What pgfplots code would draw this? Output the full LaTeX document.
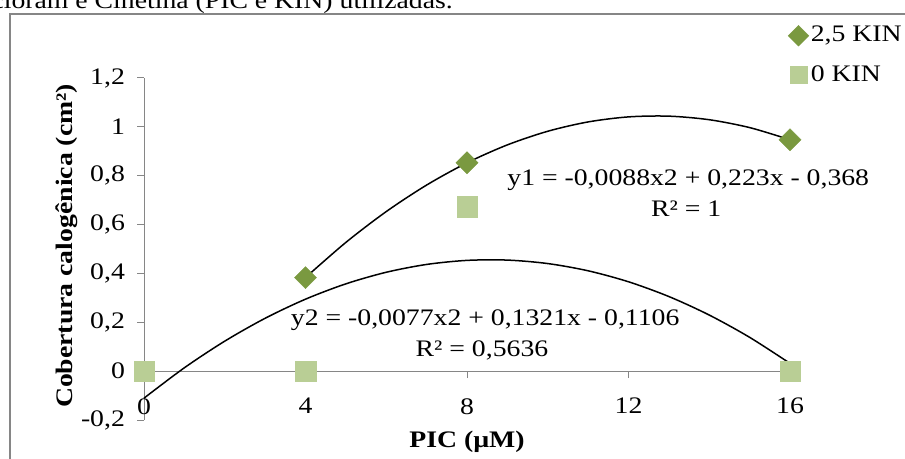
\documentclass[border=0pt]{standalone}
\usepackage{pgfplots}
\pgfplotsset{compat=1.18}
\usepackage{fontspec}
\setmainfont{Liberation Serif}[FakeStretch=1.17]
\definecolor{dgreen}{RGB}{122,153,64}
\definecolor{lgreen}{RGB}{185,206,149}
\definecolor{axgray}{RGB}{134,134,134}
\begin{document}
\fontsize{23.7bp}{28bp}\selectfont
\begin{tikzpicture}
\useasboundingbox (0,0) rectangle (905bp,459bp);
\draw[axgray, line width=1.3bp] (10bp,-10bp) |- (930bp,445bp);
\node[anchor=base east, inner sep=0] at (453bp,450bp) {Picloram e Cinetina (PIC e KIN) utilizadas.};
\begin{axis}[
  at={(144bp,39bp)}, anchor=south west,
  scale only axis, width=646bp, height=342bp,
  xmin=0, xmax=16, ymin=-0.2, ymax=1.2,
  clip=false,
  axis x line=middle, axis y line=left,
  axis line style={-, axgray, line width=1bp},
  xtick={0,4,8,12,16},
  ytick={-0.2,0,0.2,0.4,0.6,0.8,1,1.2},
  yticklabels={{-0,2},0,{0,2},{0,4},{0,6},{0,8},1,{1,2}},
  xticklabels={0,4,8,12,16},
  tick align=outside, major tick length=7bp,
  tick style={axgray, line width=1bp},
  hide obscured x ticks=false, hide obscured y ticks=false,
  ticklabel style={font=\fontsize{23.7bp}{28bp}\selectfont},
  xticklabel style={yshift=-12bp},
  yticklabel style={xshift=-4bp},
  xlabel={\textbf{PIC (µM)}},
  xlabel style={at={(axis description cs:0.5,-0.065)}, anchor=center, font=\fontsize{23.7bp}{28bp}\selectfont},
  ylabel={\textbf{Cobertura calogênica (cm²)}},
  ylabel style={at={(axis description cs:-0.1195,0.5088)}, anchor=center, rotate=0, font=\fontsize{23.7bp}{28bp}\selectfont},
  legend style={at={(axis description cs:0.9969,1.1579)}, anchor=north west, draw=none, fill=none,
    font=\fontsize{23.7bp}{28bp}\selectfont, row sep=16bp, inner sep=0pt, cells={anchor=west}},
  legend image code/.code={\draw[#1] plot coordinates {(6bp,0bp)};},
]
\addplot[only marks, color=dgreen, mark=square*, mark size=7.8bp, mark options={rotate=45, fill=dgreen, draw=dgreen},
  legend image post style={mark size=7.3bp}]
  coordinates {(4,0.383) (8,0.853) (16,0.947)};
\addlegendentry{2,5 KIN}
\addplot[only marks, color=lgreen, mark=square*, mark size=10.3bp, mark options={fill=lgreen, draw=lgreen},
  legend image post style={mark size=8.6bp}]
  coordinates {(0,0) (4,0) (8,0.673) (16,0)};
\addlegendentry{0 KIN}
\addplot[black, line width=1.5bp, smooth, forget plot] coordinates {
 (4,0.3832) (5,0.527) (6,0.6532) (7,0.7618) (8,0.8528) (9,0.9262) (10,0.982)
 (11,1.0202) (12,1.0408) (13,1.0438) (14,1.0292) (15,0.997) (16,0.9472)};
\addplot[black, line width=1.5bp, smooth, forget plot] coordinates {
 (0,-0.1106) (1,0.0138) (2,0.1228) (3,0.2164) (4,0.2946) (5,0.3574) (6,0.4048)
 (7,0.4368) (8,0.4534) (9,0.4546) (10,0.4404) (11,0.4108) (12,0.3658) (13,0.3054)
 (14,0.2296) (15,0.1384) (16,0.0318)};
\node[anchor=base, inner sep=0] at (axis cs:13.48,0.759) {y1 = -0,0088x2 + 0,223x - 0,368};
\node[anchor=base, inner sep=0] at (axis cs:13.43,0.635) {R² = 1};
\node[anchor=base, inner sep=0] at (axis cs:8.45,0.185) {y2 = -0,0077x2 + 0,1321x - 0,1106};
\node[anchor=base, inner sep=0] at (axis cs:8.37,0.059) {R² = 0,5636};
\end{axis}
\end{tikzpicture}
\end{document}
